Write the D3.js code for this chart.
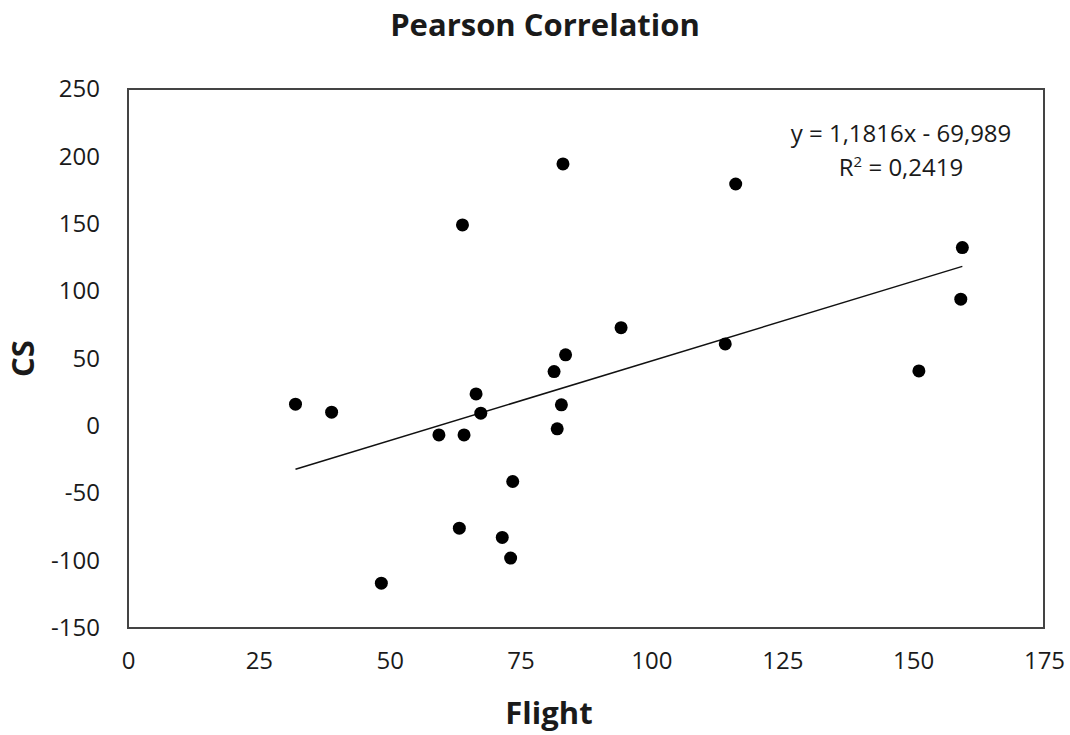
<!DOCTYPE html>
<html>
<head>
<meta charset="utf-8">
<script src="https://cdn.jsdelivr.net/npm/d3@7"></script>
<style>
  body { margin: 0; background: #fff; }
  text { font-family: "Open Sans", sans-serif; fill: #1a1a1a; }
</style>
</head>
<body>
<div id="chart-area"></div>
<script>
// Flight vs CS
const flight = [32, 38.9, 48.4, 59.4, 63.3, 63.9, 64.2, 66.5, 67.4, 71.5, 73.1, 73.5,
  81.4, 82.0, 82.8, 83.6, 83.1, 94.2, 114.1, 116.1, 151.1, 159.1, 159.4];
const cs = [16.1, 10.2, -116.7, -6.7, -75.9, 149.1, -6.7, 23.7, 9.4, -82.8, -98.1, -41.3,
  40.3, -2.2, 15.6, 52.7, 194.4, 72.9, 60.8, 179.5, 40.8, 94, 132.3];

const xTicks = [0, 25, 50, 75, 100, 125, 150, 175];
const yTicks = [-150, -100, -50, 0, 50, 100, 150, 200, 250];

// trend line coefficients, as printed on the chart
const slope = 1.1816;
const intercept = -69.989;
const equationLabel = 'y = 1,1816x - 69,989';
const r2Label = '0,2419';

const data = flight.map((f, i) => ({ x: f, y: cs[i] }));

const width = 1070;
const height = 735;
const margin = { top: 89, right: 26, bottom: 107, left: 128 };

const svg = d3.select('#chart-area').append('svg')
  .attr('width', width)
  .attr('height', height);

const x = d3.scaleLinear()
  .domain([0, 175])
  .range([margin.left, width - margin.right]);

const y = d3.scaleLinear()
  .domain([-150, 250])
  .range([height - margin.bottom, margin.top]);

// title
svg.append('text')
  .attr('x', 545)
  .attr('y', 36)
  .attr('text-anchor', 'middle')
  .attr('font-size', '31px')
  .attr('font-weight', 'bold')
  .text('Pearson Correlation');

// axes (labels only, Excel style)
const xAxis = svg.append('g')
  .attr('transform', `translate(0,${height - margin.bottom})`)
  .call(d3.axisBottom(x).tickValues(xTicks).tickFormat(d => String(d)).tickSize(0).tickPadding(24));
xAxis.select('.domain').remove();
xAxis.selectAll('text')
  .attr('font-size', '24px')
  .attr('font-family', '"Open Sans", sans-serif')
  .attr('fill', '#1a1a1a');

const yAxis = svg.append('g')
  .attr('transform', `translate(${margin.left},0)`)
  .call(d3.axisLeft(y).tickValues(yTicks).tickFormat(d => String(d)).tickSize(0).tickPadding(28));
yAxis.select('.domain').remove();
yAxis.selectAll('text')
  .attr('font-size', '24px')
  .attr('font-family', '"Open Sans", sans-serif')
  .attr('fill', '#1a1a1a');

// plot border
svg.append('rect')
  .attr('x', x(0))
  .attr('y', y(250))
  .attr('width', x(175) - x(0))
  .attr('height', y(-150) - y(250))
  .attr('fill', 'none')
  .attr('stroke', '#444')
  .attr('stroke-width', 2);

// axis titles
svg.append('text')
  .attr('x', 549)
  .attr('y', 724)
  .attr('text-anchor', 'middle')
  .attr('font-size', '31px')
  .attr('font-weight', 'bold')
  .text('Flight');

svg.append('text')
  .attr('transform', `translate(34,${(y(250) + y(-150)) / 2}) rotate(-90)`)
  .attr('text-anchor', 'middle')
  .attr('font-size', '31px')
  .attr('font-weight', 'bold')
  .text('CS');

// trend line
const xExt = d3.extent(flight);
svg.append('line')
  .attr('x1', x(xExt[0]))
  .attr('y1', y(slope * xExt[0] + intercept))
  .attr('x2', x(xExt[1]))
  .attr('y2', y(slope * xExt[1] + intercept))
  .attr('stroke', '#111')
  .attr('stroke-width', 1.5);

// points
svg.selectAll('circle')
  .data(data)
  .enter()
  .append('circle')
  .attr('cx', d => x(d.x))
  .attr('cy', d => y(d.y))
  .attr('r', 6.5)
  .attr('fill', '#000');

// equation
svg.append('text')
  .attr('x', 901)
  .attr('y', 142)
  .attr('text-anchor', 'middle')
  .attr('font-size', '24px')
  .text(equationLabel);

const r2 = svg.append('text')
  .attr('x', 901)
  .attr('y', 176)
  .attr('text-anchor', 'middle')
  .attr('font-size', '24px');
r2.append('tspan').text('R');
r2.append('tspan').attr('font-size', '15px').attr('dy', -9).text('2');
r2.append('tspan').attr('dy', 9).text(' = ' + r2Label);
</script>
</body>
</html>
